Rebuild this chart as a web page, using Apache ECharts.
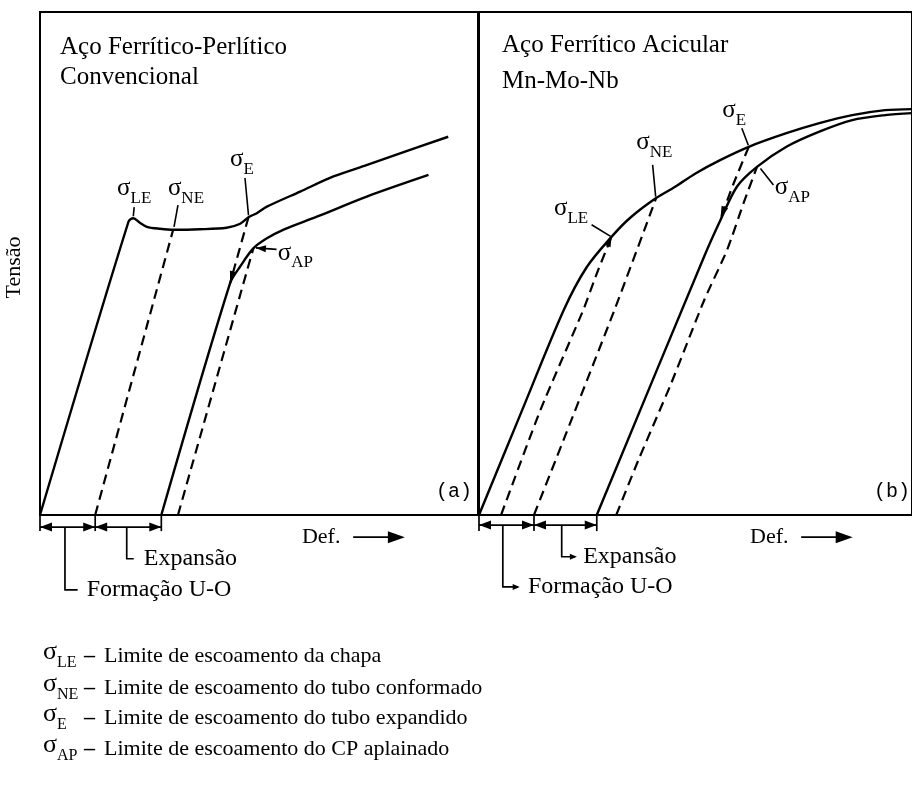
<!DOCTYPE html>
<html>
<head>
<meta charset="utf-8">
<script src="https://cdn.jsdelivr.net/npm/echarts@6/dist/echarts.min.js"></script>
<style>
  html, body { margin: 0; padding: 0; background: #fff; }
  #chart { width: 912px; height: 785px; }
</style>
</head>
<body>
<div id="chart"></div>
<script>
// Schematic stress–strain curves, arbitrary units: [deformação, tensão], both 0–100 per panel.

// (a) conventional ferrite–pearlite steel
const plateA     = [[0,0],[20.2,58.3],[21.3,59.0],[22.8,58.1],[24.4,57.3],[27.4,56.9],[30.4,56.7],[36.5,56.8],[42.6,57.1],[45.7,57.9],[47.6,59.2],[49.5,60.0],[51.8,61.3],[59.4,64.3],[67.0,67.3],[74.7,69.6],[82.2,71.9],[93.2,75.2]];
const expandedA  = [[27.7,0],[43.4,46.1],[45.7,49.4],[48.7,53.0],[51.8,55.0],[55.5,56.7],[63.2,59.3],[74.6,63.3],[88.7,67.6]];
const formedA    = [[12.6,0],[30.4,56.7]];
const unloadEA   = [[47.6,59.2],[43.4,46.1]];
const flattenA   = [[31.5,0],[48.7,53.0]];
const yieldA     = { LE: [21.3,59.0], NE: [30.4,56.7], E: [47.6,59.2], AP: [48.7,53.0] };

// (b) acicular ferrite Mn-Mo-Nb steel
const plateB     = [[0,0],[9.8,20.5],[19.6,40.8],[24.9,49.3],[30.6,55.3],[34.8,59.0],[40.9,63.0],[45.4,65.3],[50.0,67.9],[55.8,70.6],[62.3,73.2],[71.0,75.9],[78.6,77.9],[86.2,79.5],[93.8,80.5],[100,80.7]];
const expandedB  = [[27.2,0],[52.0,51.4],[55.8,58.7],[59.6,65.3],[64.2,69.2],[71.0,73.2],[78.6,76.2],[86.2,78.5],[93.8,79.5],[100,79.9]];
const reloadLEB  = [[5.1,0],[14.2,20.9],[24.1,40.8],[27.2,48.0],[30.6,55.3]];
const formedB    = [[12.7,0],[31.3,40.8],[40.9,63.0]];
const unloadEB   = [[62.3,73.2],[58.8,65.9],[55.8,59.0]];
const flattenB   = [[31.7,0],[36.8,10.9],[44.4,26.2],[52.0,42.7],[57.3,52.7],[61.1,62.0],[64.2,69.2]];
const yieldB     = { LE: [30.6,55.3], NE: [40.9,63.0], E: [62.3,73.2], AP: [64.2,69.2] };

// Texts
const titlesA   = ['Aço Ferrítico-Perlítico', 'Convencional'];
const titlesB   = ['Aço Ferrítico Acicular', 'Mn-Mo-Nb'];
const yName     = 'Tensão';
const xName     = 'Def.';
const stageText = ['Formação U-O', 'Expansão'];
const legendRows = [
  ['LE', 'Limite de escoamento da chapa'],
  ['NE', 'Limite de escoamento do tubo conformado'],
  ['E',  'Limite de escoamento do tubo expandido'],
  ['AP', 'Limite de escoamento do CP aplainado']
];

// ---------------------------------------------------------------------------
// Layout and styling
const BLACK = '#000';
const SERIF = '"Liberation Serif", "Times New Roman", serif';
const MONO  = '"Liberation Mono", "Courier New", monospace';
const GRID  = { top: 12, w: 438, h: 503, leftA: 40, leftB: 479 };
const PX    = { x: GRID.w / 100, y: GRID.h / 100 };   // pixels per unit

// Where each sigma label sits (left edge of σ, vertical centre), per panel
const labelAt = {
  0: { LE: [17.6,64.4], NE: [29.2,64.4], E: [43.4,70.0], AP: [54.3,51.5] },
  1: { LE: [17.3,60.4], NE: [36.3,73.4], E: [56.2,79.8], AP: [68.3,64.6] }
};
// Leader strokes from labels to the yield points
const leadersA = { LE: [[21.5,61.2],[21.3,59.4]], NE: [[31.5,61.6],[30.6,57.3]], E: [[46.8,67.0],[47.6,59.6]], AP: [[54.0,52.8],[49.3,53.1]] };
const leadersB = { LE: [[26.0,57.7],[30.4,55.4]], NE: [[40.1,69.6],[40.8,63.3]], E: [[60.7,76.9],[62.2,73.5]], AP: [[68.0,65.6],[65.0,68.9]] };

function seg(grid, data, o) {
  o = o || {};
  return {
    type: 'line', xAxisIndex: grid, yAxisIndex: grid, data: data,
    clip: false, silent: true, animation: false, symbol: 'none',
    smooth: o.smooth || 0, z: 3,
    lineStyle: { color: BLACK, width: o.width || 2.3, type: o.dash ? [10, 6] : 'solid', cap: 'butt', join: 'round', opacity: 1 }
  };
}

// Filled triangular arrowhead with its tip at `tip`, pointing away from `from`
function head(tip, from, w, h) {
  const dx = (tip[0] - from[0]) * PX.x;
  const dy = -(tip[1] - from[1]) * PX.y;
  const len = Math.hypot(dx, dy) || 1;
  const ux = dx / len, uy = dy / len;
  const ang = Math.atan2(-dy, dx) * 180 / Math.PI;
  return { value: tip, symbol: 'triangle', symbolSize: [w, h], symbolRotate: ang - 90, symbolOffset: [-ux * h / 2, -uy * h / 2] };
}

const sigmaRich = {
  s: { fontFamily: SERIF, fontSize: 25, color: BLACK, padding: [0, 0, 6, 0] },
  b: { fontFamily: SERIF, fontSize: 17, color: BLACK, verticalAlign: 'bottom' }
};

const solidItem = { color: BLACK, opacity: 1 };

function panel(grid, curves, yields, leaders, base, layout) {
  const out = [];
  curves.solid.forEach(c => out.push(seg(grid, c, { smooth: 0.3, width: 2.4 })));
  curves.dashed.forEach(c => out.push(seg(grid, c, { dash: true, smooth: 0.2, width: 2.2 })));
  Object.keys(leaders).forEach(k => out.push(seg(grid, leaders[k], { width: 1.6 })));

  // strain increments under the axis
  const yA = layout.arrowY;
  out.push(seg(grid, [[base[0], yA], [base[1], yA]], { width: 1.7 }));
  out.push(seg(grid, [[base[1], yA], [base[2], yA]], { width: 1.7 }));
  base.forEach(x => out.push(seg(grid, [[x, 0], [x, -3.2]], { width: 1.7 })));
  out.push(seg(grid, layout.formLine, { width: 1.7 }));
  out.push(seg(grid, layout.expLine, { width: 1.7 }));
  out.push(seg(grid, layout.defShaft, { width: 1.6 }));

  const heads = [
    head([base[0], yA], [base[1], yA], 9, 12),
    head([base[1], yA], [base[0], yA], 9, 12),
    head([base[1], yA], [base[2], yA], 9, 12),
    head([base[2], yA], [base[1], yA], 9, 12),
    head(layout.defTip, layout.defShaft[0], 12, 17)
  ].concat(layout.extraHeads);
  out.push({ type: 'scatter', xAxisIndex: grid, yAxisIndex: grid, clip: false, silent: true, animation: false, z: 4,
    itemStyle: solidItem, data: heads });

  // sigma labels
  out.push({
    type: 'scatter', xAxisIndex: grid, yAxisIndex: grid, clip: false, silent: true, animation: false,
    symbolSize: 0, z: 5, itemStyle: solidItem,
    label: { show: true, position: 'right', distance: 0, opacity: 1, rich: sigmaRich },
    data: Object.keys(yields).map(k => ({ value: labelAt[grid][k], label: { formatter: '{s|σ}{b|' + k + '}' } }))
  });

  // stage and axis texts
  const txt = (pos, text, dist) => ({ value: pos, label: { formatter: text, distance: dist } });
  out.push({
    type: 'scatter', xAxisIndex: grid, yAxisIndex: grid, clip: false, silent: true, animation: false,
    symbolSize: 0, z: 5, itemStyle: solidItem,
    label: { show: true, position: 'right', fontFamily: SERIF, fontSize: 24, color: BLACK, opacity: 1 },
    data: [
      txt(layout.formLine[2], stageText[0], layout.formGap),
      txt(layout.expLine[2], stageText[1], layout.expGap),
      { value: layout.defAt, label: { formatter: xName, fontSize: 22, distance: 0 } }
    ]
  });
  return out;
}

const layoutA = {
  arrowY: -2.4,
  formLine: [[5.7,-2.4],[5.7,-14.9],[8.6,-14.9]], formGap: 9,
  expLine:  [[19.8,-2.4],[19.8,-8.7],[21.4,-8.7]], expGap: 10,
  defAt: [59.8,-4.4], defShaft: [[71.5,-4.4],[80.0,-4.4]], defTip: [83.3,-4.4],
  extraHeads: [
    head(unloadEA[1], unloadEA[0], 7, 12),
    head(leadersA.AP[1], leadersA.AP[0], 7, 10)
  ]
};
const layoutB = {
  arrowY: -2.0,
  formLine: [[5.5,-2.0],[5.5,-14.3],[9.0,-14.3]], formGap: 10,
  expLine:  [[19.1,-2.0],[19.1,-8.3],[22.2,-8.3]], expGap: 8,
  defAt: [62.6,-4.4], defShaft: [[74.4,-4.4],[82.6,-4.4]], defTip: [86.3,-4.4],
  extraHeads: [
    head(unloadEB[2], unloadEB[1], 7, 12),
    head(reloadLEB[4], reloadLEB[3], 6, 10),
    head([9.4,-14.3], [5.5,-14.3], 6, 7),
    head([22.6,-8.3], [19.1,-8.3], 6, 7)
  ]
};

const baseA = [0, formedA[0][0], expandedA[0][0]];
const baseB = [0, formedB[0][0], expandedB[0][0]];

const series = [].concat(
  panel(0, { solid: [plateA, expandedA], dashed: [formedA, unloadEA, flattenA] }, yieldA, leadersA, baseA, layoutA),
  panel(1, { solid: [plateB, expandedB], dashed: [reloadLEB, formedB, unloadEB, flattenB] }, yieldB, leadersB, baseB, layoutB)
);

// Free-standing texts: panel titles, panel tags and the symbol legend
const graphic = [];
function addText(x, y, text, font, align) {
  graphic.push({
    type: 'text', x: x, y: y, silent: true,
    style: { text: text, font: font, fill: BLACK, align: align || 'left', verticalAlign: 'middle',
             textAlign: align || 'left', textVerticalAlign: 'middle' }
  });
}
addText(60, 47, titlesA[0], '25px ' + SERIF);
addText(60, 77, titlesA[1], '25px ' + SERIF);
addText(502, 45, titlesB[0], '25px ' + SERIF);
addText(502, 81, titlesB[1], '25px ' + SERIF);
addText(472, 492, '(a)', '20px ' + MONO, 'right');
addText(874, 492, '(b)', '20px ' + MONO, 'left');

const rowY = [655, 687, 717, 748];
legendRows.forEach((r, i) => {
  graphic.push({
    type: 'text', x: 43, y: rowY[i], silent: true,
    style: {
      text: '{s|σ}{b|' + r[0] + '}', verticalAlign: 'middle', textVerticalAlign: 'middle',
      rich: {
        s: { font: '26px ' + SERIF, fill: BLACK, padding: [0, 0, 5, 0] },
        b: { font: '16px ' + SERIF, fill: BLACK, verticalAlign: 'bottom' }
      }
    }
  });
  addText(84, rowY[i] + 1, '–', 'bold 22px ' + SERIF);
  addText(104, rowY[i] + 1, r[1], '22px ' + SERIF);
});

const hiddenX = (i) => ({ type: 'value', gridIndex: i, min: 0, max: 100, show: false });

const option = {
  backgroundColor: '#fff',
  animation: false,
  grid: [
    { left: GRID.leftA, top: GRID.top, width: GRID.w, height: GRID.h, show: true, borderColor: BLACK, borderWidth: 2, backgroundColor: 'transparent' },
    { left: GRID.leftB, top: GRID.top, width: GRID.w, height: GRID.h, show: true, borderColor: BLACK, borderWidth: 2, backgroundColor: 'transparent' }
  ],
  xAxis: [hiddenX(0), hiddenX(1)],
  yAxis: [
    { type: 'value', gridIndex: 0, min: 0, max: 100, show: true,
      axisLine: { show: false }, axisTick: { show: false }, axisLabel: { show: false }, splitLine: { show: false },
      name: yName, nameLocation: 'middle', nameRotate: 90, nameGap: 15,
      nameTextStyle: { fontFamily: SERIF, fontSize: 22, color: BLACK, padding: [0, 0, 0, -8] } },
    { type: 'value', gridIndex: 1, min: 0, max: 100, show: false }
  ],
  series: series,
  graphic: graphic
};

const chart = echarts.init(document.getElementById('chart'));
chart.setOption(option);
</script>
</body>
</html>
